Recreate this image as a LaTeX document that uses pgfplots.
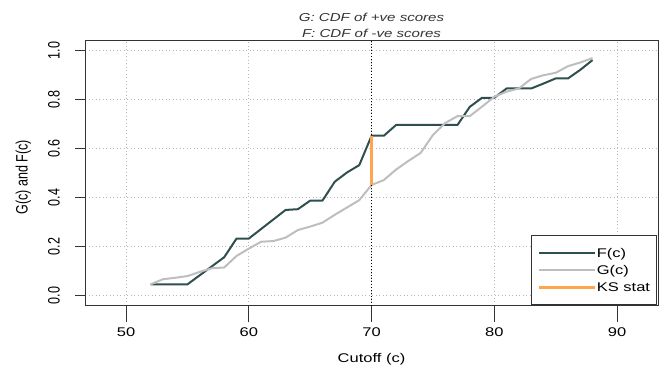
\documentclass[border=0pt]{standalone}
\usepackage{fontspec}
\usepackage{graphicx}
\usepackage{pgfplots}
\pgfplotsset{compat=1.18}
\setmainfont{Liberation Sans}
\newfontfamily\hfont{Liberation Sans}[FakeStretch=1.31]
\newfontfamily\vfont{Liberation Sans}[FakeStretch=0.76]
\newcommand\hfs{\hfont\fontsize{12.6bp}{15bp}\selectfont}
\newcommand\vfs{\vfont\fontsize{16.5bp}{18bp}\selectfont}
\newcommand\tfs{\hfont\itshape\fontsize{11.5bp}{14bp}\selectfont}
\definecolor{Fcol}{HTML}{2F4F4F}
\definecolor{Gcol}{HTML}{BEBEBE}
\definecolor{KScol}{HTML}{FFA54F}
\definecolor{gridc}{HTML}{B8B8B8}
\definecolor{frame}{HTML}{333333}
\begin{document}
\begin{tikzpicture}
\path[use as bounding box] (0,0) rectangle (664bp,369bp);
\begin{axis}[
  at={(85bp,63.3bp)}, anchor=south west,
  scale only axis, width=573bp, height=265bp,
  xmin=46.66, xmax=93.33, ymin=-0.041, ymax=1.041,
  axis line style={draw=frame, line width=0.9bp},
  xtick={50,60,70,80,90}, xticklabels={50,60,70,80,90},
  ytick={0,0.2,0.4,0.6,0.8,1.0}, yticklabels={0.0,0.2,0.4,0.6,0.8,1.0},
  tick align=outside, tick pos=left,
  major tick length=9.5bp,
  tick style={draw=frame, line width=0.9bp},
  xticklabel style={font=\hfs, anchor=base, yshift=-21.5bp, inner sep=0pt},
  yticklabel style={font=\vfs, xshift=-15.8bp, rotate=90, anchor=base, inner sep=0pt},
  grid=major,
  major grid style={draw=gridc, line width=0.9bp, dash pattern=on 1bp off 2.5bp},
  xlabel={Cutoff (c)},
  every axis x label/.style={at={([yshift=-57bp]rel axis cs:0.5,0)}, anchor=base, font=\hfs, inner sep=0pt},
  ylabel={G(c) and F(c)},
  every axis y label/.style={at={([xshift=-57.3bp,yshift=-4bp]rel axis cs:0,0.5)}, rotate=90, anchor=base, font=\vfs, inner sep=0pt},
  legend style={at={([xshift=-1bp,yshift=1bp]rel axis cs:1,0)}, anchor=south east,
    draw=frame, line width=0.9bp, fill=white,
    inner xsep=6.5bp, inner ysep=8.25bp, row sep=0pt,
    nodes={inner sep=0pt, font=\hfs, text height=13.1bp, text depth=4.2bp, anchor=base west}},
  legend cell align=left,
  legend image code/.code={
    \path (-8.7bp,4.45bp) -- (47.3bp,4.45bp);
    \draw[#1, line cap=butt] (0bp,4.45bp) -- (31.6bp,4.45bp);
  },
  clip=false,
]
\addplot[Fcol, line width=2bp, line join=round] coordinates {
(52,0.046) (53,0.046) (54,0.046) (55,0.046) (56,0.083) (57,0.120) (58,0.157)
(59,0.233) (60,0.233) (61,0.272) (62,0.311) (63,0.350) (64,0.353) (65,0.388)
(66,0.388) (67,0.465) (68,0.503) (69,0.533) (70,0.653) (71,0.653) (72,0.697)
(73,0.697) (74,0.697) (75,0.697) (76,0.697) (77,0.697) (78,0.771) (79,0.808)
(80,0.808) (81,0.846) (82,0.846) (83,0.846) (84,0.866) (85,0.887) (86,0.887)
(87,0.922) (88,0.962)
};
\addlegendentry{F(c)}
\addplot[Gcol, line width=2bp, line join=round] coordinates {
(52,0.046) (53,0.067) (54,0.073) (55,0.080) (56,0.097) (57,0.112) (58,0.115)
(59,0.162) (60,0.192) (61,0.220) (62,0.223) (63,0.237) (64,0.268) (65,0.282)
(66,0.298) (67,0.330) (68,0.360) (69,0.390) (70,0.452) (71,0.472) (72,0.515)
(73,0.550) (74,0.583) (75,0.656) (76,0.705) (77,0.733) (78,0.733) (79,0.772)
(80,0.812) (81,0.833) (82,0.846) (83,0.885) (84,0.900) (85,0.910) (86,0.937)
(87,0.952) (88,0.970)
};
\addlegendentry{G(c)}
\addplot[black, line width=0.9bp, dash pattern=on 1bp off 2bp, forget plot] coordinates {(70,-0.041) (70,1.041)};
\addplot[frame, line width=0.9bp, forget plot] coordinates {(50,-0.041) (50,-0.108)};
\addplot[frame, line width=0.9bp, forget plot] coordinates {(60,-0.041) (60,-0.108)};
\addplot[frame, line width=0.9bp, forget plot] coordinates {(70,-0.041) (70,-0.108)};
\addplot[frame, line width=0.9bp, forget plot] coordinates {(80,-0.041) (80,-0.108)};
\addplot[frame, line width=0.9bp, forget plot] coordinates {(90,-0.041) (90,-0.108)};
\addplot[KScol, line width=3bp, line cap=butt] coordinates {(70,0.452) (70,0.653)};
\addlegendentry{KS stat}
\node[anchor=base, font=\tfs, text=frame] at ([yshift=19bp]rel axis cs:0.5,1) {G: CDF of +ve scores};
\node[anchor=base, font=\tfs, text=frame] at ([yshift=3.4bp]rel axis cs:0.5,1) {F: CDF of -ve scores};
\end{axis}
\end{tikzpicture}
\end{document}
